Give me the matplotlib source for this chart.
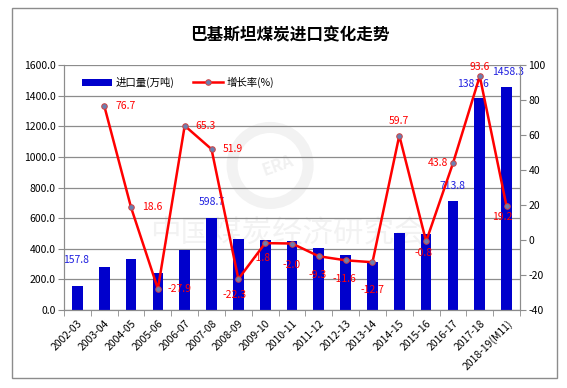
import matplotlib
matplotlib.use('Agg')
import matplotlib.pyplot as plt
from matplotlib.patches import Rectangle, Ellipse
import numpy as np

plt.rcParams['font.family'] = ['Noto Sans CJK SC', 'DejaVu Sans']
plt.rcParams['axes.unicode_minus'] = False

# 数据
years = ['2002-03', '2003-04', '2004-05', '2005-06', '2006-07', '2007-08',
         '2008-09', '2009-10', '2010-11', '2011-12', '2012-13', '2013-14',
         '2014-15', '2015-16', '2016-17', '2017-18', '2018-19(M11)']
imports = [157.8, 278.8, 330.7, 238.4, 394.1, 598.7, 465.2, 456.7, 447.6,
           406.0, 358.9, 313.3, 500.4, 496.4, 713.8, 1381.6, 1458.3]
growth = [None, 76.7, 18.6, -27.9, 65.3, 51.9, -22.3, -1.8, -2.0, -9.3,
          -11.6, -12.7, 59.7, -0.8, 43.8, 93.6, 19.2]

# 标签偏移 (像素)
bar_label_idx = [0, 5, 14, 15, 16]
bar_label_off = {0: (-1, 21), 5: (0, 11), 14: (0, 10), 15: (-7, 9), 16: (1, 10)}
growth_off = {1: (21, 0), 2: (21, 0), 3: (22, 0), 4: (21, 0), 5: (21, 0),
              6: (-4, -16), 7: (-4, -15), 8: (0, -21), 9: (-1, -19),
              10: (-1, -19), 11: (0, -28), 12: (0, 15), 13: (-3, -12),
              14: (-15, 0), 15: (0, 9), 16: (-4, -11)}

fig = plt.figure(figsize=(5.67, 3.88), dpi=100)
fig.patches.append(Rectangle((12/567, 1-378/388), 545/567, 370/388,
                             transform=fig.transFigure, fill=False,
                             edgecolor='#8c8c8c', linewidth=1.0))

ax = fig.add_axes([64/567, 1-310/388, 456/567, 245/388])
x = np.arange(len(years))

# 水印
ax.text(0.489, 0.314, '中国煤炭经济研究会', transform=ax.transAxes, fontsize=22,
        color='#000000', alpha=0.05, ha='center', va='center', zorder=0)
wm = Ellipse((0.452, 0.59), 76/456, 76/245, transform=ax.transAxes,
             fill=False, edgecolor='#000000', alpha=0.05, linewidth=8,
             zorder=0)
ax.add_patch(wm)
ax.text(0.47, 0.59, 'ERA', transform=ax.transAxes, fontsize=12,
        fontweight='bold', color='#000000', alpha=0.06, rotation=20,
        ha='center', va='center', zorder=0)

bars = ax.bar(x, imports, width=0.4, color='#0000CC', zorder=2,
              label='进口量(万吨)')
ax.set_ylim(0, 1600)
ax.set_xlim(-0.5, len(years) - 0.5)
ax.set_yticks(np.arange(0, 1601, 200))
ax.set_yticklabels(['%.1f' % v for v in np.arange(0, 1601, 200)])
ax.yaxis.grid(True, color='#8c8c8c', linewidth=0.9, zorder=0)
ax.set_axisbelow(True)

for i in bar_label_idx:
    ax.annotate('%.1f' % imports[i], (x[i], imports[i]),
                xytext=bar_label_off[i], textcoords='offset pixels',
                ha='center', va='bottom', color='#2020E0', fontsize=7.5,
                zorder=5)

ax2 = ax.twinx()
gx = [i for i in x if growth[i] is not None]
gy = [growth[i] for i in gx]
ax2.plot(gx, gy, color='#FF0000', linewidth=1.8, marker='o', markersize=4,
         markerfacecolor='#6a7fb0', markeredgecolor='#d04040',
         markeredgewidth=0.7, zorder=4, label='增长率(%)')
ax2.set_ylim(-40, 100)
ax2.set_yticks(np.arange(-40, 101, 20))

for i in gx:
    dx, dy = growth_off[i]
    ax2.annotate('%.1f' % growth[i], (x[i], growth[i]), xytext=(dx, dy),
                 textcoords='offset pixels', ha='center', va='center',
                 color='#FF0000', fontsize=7.5, zorder=6)

# 坐标轴样式
for a in (ax, ax2):
    for s in a.spines.values():
        s.set_color('#8c8c8c')
    a.spines['top'].set_visible(False)
ax.tick_params(axis='y', labelsize=7.5, length=4, color='#8c8c8c', pad=2)
ax2.tick_params(axis='y', labelsize=7.5, length=4, color='#8c8c8c', pad=2)

ax.set_xticks(x)
ax.set_xticklabels(years, rotation=45, ha='right', rotation_mode='anchor',
                   fontsize=7.5)
ax.tick_params(axis='x', which='major', length=0, pad=6)
ax.set_xticks(np.arange(-0.5, len(years), 1), minor=True)
ax.tick_params(axis='x', which='minor', length=4, color='#8c8c8c')

h1, l1 = ax.get_legend_handles_labels()
h2, l2 = ax2.get_legend_handles_labels()
ax.legend(h1 + h2, l1 + l2, loc='upper left', bbox_to_anchor=(0.02, 0.99),
          ncol=2, frameon=False, fontsize=7.5, handlelength=2.8,
          columnspacing=1.8, handletextpad=0.4)

fig.text(290/567, 1-35/388, '巴基斯坦煤炭进口变化走势', ha='center', va='center',
         fontsize=12, fontweight='bold')

fig.savefig('out.png', dpi=100)
